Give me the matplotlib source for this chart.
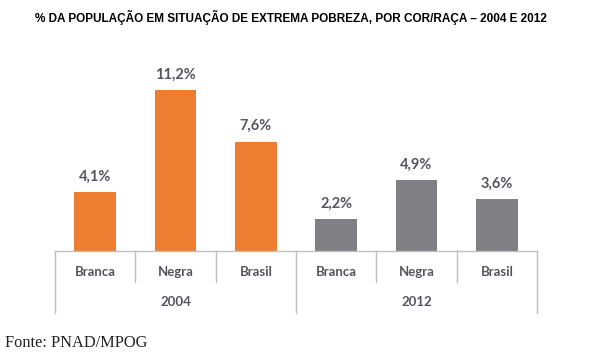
import matplotlib.pyplot as plt

# Data
categories = ["Branca", "Negra", "Brasil", "Branca", "Negra", "Brasil"]
years = ["2004", "2012"]
values = [4.1, 11.2, 7.6, 2.2, 4.9, 3.6]
value_labels = ["4,1%", "11,2%", "7,6%", "2,2%", "4,9%", "3,6%"]

orange = "#ED7D31"
gray = "#7F7F84"
txt = "#555560"
line_c = "#BFBFBF"

fig = plt.figure(figsize=(6, 3.6), dpi=100)
fig.patch.set_facecolor("white")

ax = fig.add_axes([55 / 600, 109 / 360, 482 / 600, 191 / 360])
xs = list(range(len(values)))
colors = [orange] * 3 + [gray] * 3
ax.bar(xs, values, width=0.52, color=colors)

ax.set_xlim(-0.5, 5.5)
ax.set_ylim(0, 191 / 14.4)
for s in ["top", "right", "left"]:
    ax.spines[s].set_visible(False)
ax.spines["bottom"].set_color(line_c)
ax.spines["bottom"].set_linewidth(1)
ax.set_xticks([])
ax.set_yticks([])

for x, v, lab in zip(xs, values, value_labels):
    ax.annotate(lab, (x, v), xytext=(0, 6), textcoords="offset points",
                ha="center", va="bottom", fontsize=10.5, fontweight="bold",
                color=txt, family="Lato")

# category dividers below the axis
trans = ax.get_xaxis_transform()
px = 1 / 191
for b in [-0.5, 0.5, 1.5, 2.5, 3.5, 4.5, 5.5]:
    depth = 62 if b in (-0.5, 2.5, 5.5) else 31
    ax.plot([b, b], [0, -depth * px], transform=trans, color=line_c,
            lw=1, clip_on=False)

for x, c in zip(xs, categories):
    ax.text(x, -21 * px, c, transform=trans, ha="center", va="center",
            fontsize=9.5, fontweight="bold", color=txt, family="Lato")

for i, y in enumerate(years):
    ax.text(1 + 3 * i, -51 * px, y, transform=trans, ha="center", va="center",
            fontsize=9.5, fontweight="bold", color=txt, family="Lato")

fig.text(291 / 600, 1 - 17 / 360,
         "% DA POPULAÇÃO EM SITUAÇÃO DE EXTREMA POBREZA, POR COR/RAÇA – 2004 E 2012",
         ha="center", va="center", fontsize=8.5, fontweight="bold",
         family="Liberation Sans", color="#000000")

fig.text(5 / 600, 1 - 343 / 360, "Fonte: PNAD/MPOG", ha="left", va="center",
         fontsize=11.8, family="Liberation Serif", color="#222222")

fig.savefig("out.png", dpi=100)
